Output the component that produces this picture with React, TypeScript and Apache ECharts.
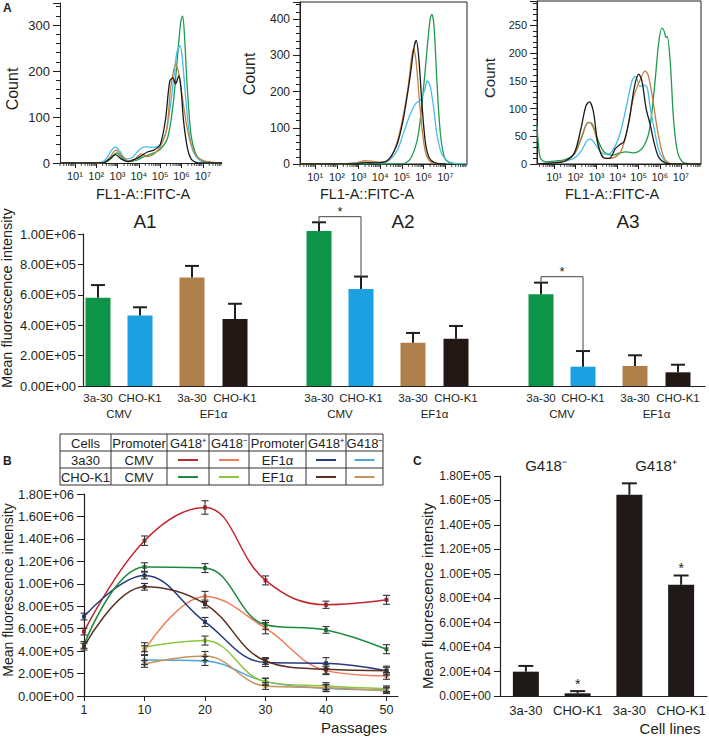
import { useEffect, useRef } from 'react';
import * as echarts from 'echarts';

const FONT = "'Liberation Sans', Arial, Helvetica, sans-serif";
const INK = '#231f20';

// ================= Panel A (top): flow cytometry histograms =================
// x = log10(FL1-A fluorescence), y = cell count
const histXName = 'FL1-A::FITC-A';
const histYName = 'Count';
const histDecades = [1, 2, 3, 4, 5, 6, 7];
const histSup = ['⁰', '¹', '²', '³', '⁴', '⁵', '⁶', '⁷', '⁸'];

const h1Green = [[0.3,0],[2.3,0],[2.65,8],[2.95,22],[3.25,10],[3.55,3],[3.9,6],[4.25,14],[4.6,20],[5.0,30],[5.35,55],[5.6,125],[5.82,235],[5.96,305],[6.05,320],[6.13,285],[6.27,165],[6.45,60],[6.65,22],[6.9,6],[7.3,1],[7.9,0]];
const h1Blue = [[0.3,0],[1.9,0],[2.4,6],[2.7,27],[2.9,35],[3.1,26],[3.4,9],[3.7,12],[4.0,28],[4.3,35],[4.7,34],[5.0,40],[5.3,72],[5.55,150],[5.78,240],[5.93,255],[6.03,232],[6.18,150],[6.35,70],[6.55,25],[6.85,6],[7.2,0],[7.9,0]];
const h1Orange = [[0.3,0],[2.3,0],[2.6,10],[2.92,28],[3.2,16],[3.5,5],[3.8,8],[4.1,20],[4.4,14],[4.7,19],[5.0,35],[5.3,72],[5.5,165],[5.72,213],[5.85,200],[6.05,140],[6.25,80],[6.45,40],[6.7,16],[7.0,6],[7.4,2],[7.9,0]];
const h1Black = [[0.3,0],[2.3,0],[2.6,8],[2.9,18],[3.2,8],[3.5,3],[3.8,8],[4.1,15],[4.4,24],[4.7,28],[5.0,40],[5.25,95],[5.45,178],[5.6,185],[5.72,172],[5.88,190],[5.98,160],[6.1,90],[6.28,32],[6.45,9],[6.65,2],[7.0,0],[7.9,0]];

const h2Green = [[0.3,0],[4.9,0],[5.15,2],[5.45,20],[5.75,80],[5.98,200],[6.18,330],[6.3,400],[6.38,413],[6.48,380],[6.62,220],[6.78,80],[6.98,15],[7.3,2],[8.0,0]];
const h2Blue = [[0.3,0],[2.3,0],[2.7,3],[3.1,4],[3.5,3],[4.0,3],[4.4,10],[4.8,40],[5.1,90],[5.4,140],[5.65,168],[5.85,175],[6.05,205],[6.17,229],[6.3,215],[6.45,160],[6.62,80],[6.82,30],[7.1,8],[7.4,2],[8.0,0]];
const h2Orange = [[0.3,0],[2.6,0],[3.0,5],[3.3,9],[3.6,8],[4.0,5],[4.4,12],[4.75,55],[5.05,130],[5.3,220],[5.45,295],[5.54,318],[5.65,285],[5.82,165],[5.98,70],[6.15,20],[6.4,3],[6.8,0]];
const h2Black = [[0.3,0],[2.8,0],[3.3,4],[3.8,3],[4.3,8],[4.75,50],[5.05,120],[5.35,230],[5.55,320],[5.66,341],[5.78,290],[5.93,160],[6.08,60],[6.25,18],[6.5,4],[7.0,0]];

const h3Green = [[0.18,70],[0.25,35],[0.35,10],[0.6,4],[1.0,5],[1.5,8],[1.95,18],[2.3,48],[2.6,75],[2.8,72],[3.05,45],[3.35,22],[3.75,16],[4.1,20],[4.4,22],[4.8,20],[5.2,30],[5.5,60],[5.75,140],[5.95,220],[6.1,245],[6.2,240],[6.3,228],[6.35,230],[6.5,180],[6.65,80],[6.85,20],[7.15,2],[7.95,0]];
const h3Black = [[0.18,0],[1.0,2],[1.5,5],[1.95,20],[2.25,62],[2.5,105],[2.66,112],[2.85,95],[3.05,40],[3.3,12],[3.6,10],[3.9,28],[4.11,35],[4.3,40],[4.55,80],[4.8,140],[5.0,162],[5.15,150],[5.35,100],[5.55,70],[5.75,35],[5.95,12],[6.25,2],[6.6,0],[7.95,0]];
const h3Blue = [[0.18,0],[1.0,3],[1.5,5],[2.0,12],[2.3,25],[2.55,42],[2.72,45],[2.95,35],[3.25,20],[3.55,18],[3.85,30],[4.15,60],[4.45,110],[4.7,152],[4.86,158],[5.05,140],[5.25,142],[5.4,138],[5.55,100],[5.75,60],[5.95,25],[6.25,5],[6.6,0],[7.95,0]];
const h3Orange = [[0.18,0],[1.0,2],[1.5,6],[1.95,18],[2.25,45],[2.5,70],[2.66,75],[2.9,60],[3.15,25],[3.45,10],[3.85,12],[4.15,22],[4.45,60],[4.75,120],[5.05,150],[5.3,168],[5.45,160],[5.65,120],[5.85,70],[6.05,30],[6.25,8],[6.6,0],[7.95,0]];

// ================= Panel A (bottom): mean fluorescence bars =================
const aGroupNames = ['A1', 'A2', 'A3'];
const aCellLines = ['3a-30', 'CHO-K1', '3a-30', 'CHO-K1'];
const aPromoters = ['CMV', 'EF1α'];
const a1Means = [5.81e5, 4.63e5, 7.13e5, 4.41e5];
const a1Errors = [8.3e4, 5.5e4, 7.7e4, 1.0e5];
const a2Means = [1.02e6, 6.38e5, 2.85e5, 3.11e5];
const a2Errors = [5.7e4, 8.2e4, 6.4e4, 8.4e4];
const a3Means = [6.03e5, 1.27e5, 1.32e5, 0.9e5];
const a3Errors = [7.7e4, 1.03e5, 7.0e4, 5.0e4];
const aSignificance = [
  { group: 1, from: 0, to: 1, level: 1.114e6 },
  { group: 2, from: 0, to: 1, level: 7.19e5 },
];

// ================= Panel B: passages =================
const passages = [1, 10, 20, 30, 40, 50];
const bCellLines = ['3a30', 'CHO-K1'];
const bPromoters = ['CMV', 'EF1α'];
const b3a30CmvPos = [5.74e5, 1.384e6, 1.68e6, 1.03e6, 8.13e5, 8.57e5];
const b3a30CmvPosErr = [3.0e4, 4.2e4, 6.0e4, 4.0e4, 3.2e4, 4.0e4];
const b3a30CmvNeg = [null, 4.08e5, 8.87e5, 6.04e5, 2.26e5, 1.79e5];
const b3a30CmvNegErr = [null, 4.0e4, 4.5e4, 5.0e4, 3.5e4, 3.0e4];
const b3a30EfPos = [7.08e5, 1.074e6, 6.6e5, 2.98e5, 2.92e5, 2.26e5];
const b3a30EfPosErr = [3.0e4, 3.0e4, 4.0e4, 3.5e4, 5.0e4, 4.0e4];
const b3a30EfNeg = [null, 3.21e5, 3.12e5, 1.28e5, 6.9e4, 5.4e4];
const b3a30EfNegErr = [null, 4.0e4, 4.0e4, 3.0e4, 3.0e4, 2.5e4];
const bChoCmvPos = [4.55e5, 1.149e6, 1.14e6, 6.34e5, 5.89e5, 4.17e5];
const bChoCmvPosErr = [3.0e4, 3.8e4, 4.0e4, 4.0e4, 3.0e4, 4.0e4];
const bChoCmvNeg = [null, 4.35e5, 4.94e5, 1.28e5, 8.9e4, 6.5e4];
const bChoCmvNegErr = [null, 4.0e4, 4.0e4, 3.0e4, 3.0e4, 2.5e4];
const bChoEfPos = [4.4e5, 9.73e5, 8.2e5, 3.12e5, 2.38e5, 2.26e5];
const bChoEfPosErr = [3.0e4, 3.0e4, 3.5e4, 3.0e4, 4.0e4, 3.0e4];
const bChoEfNeg = [null, 2.86e5, 3.57e5, 8.9e4, 7.4e4, 4.7e4];
const bChoEfNegErr = [null, 3.0e4, 4.0e4, 3.0e4, 3.0e4, 2.5e4];
const bHeaders = ['Cells', 'Promoter', 'G418⁺', 'G418⁻', 'Promoter', 'G418⁺', 'G418⁻'];

// ================= Panel C =================
const cCellLines = ['3a-30', 'CHO-K1', '3a-30', 'CHO-K1'];
const cMeans = [1.99e4, 2.2e3, 1.647e5, 9.1e4];
const cErrors = [4.7e3, 1.8e3, 9.3e3, 7.6e3];
const cSignificant = [false, true, false, true];
const cGroupLabels = ['G418⁻', 'G418⁺'];
const yTitle = 'Mean fluorescence intensity';

// ================= styles / layout =================
const HIST_COLORS = { green: '#1f9a4e', blue: '#45bde8', orange: '#c4803f', black: '#1a1a1a' };
const A_COLORS = ['#0e9448', '#1ba1e2', '#b0804a', '#221714'];
const A_GROUP_START = [15, 236, 458];
const A_MEMBER_OFFSET = [0, 42, 94, 137];
const A_BAR_W = 25;

const histLayouts = [
  { left: 60, top: 3, width: 162, height: 160, xMin: 0.3, xMax: 7.9, yMax: 348, yStep: 100, frame: false, yFont: 13 },
  { left: 300, top: 2, width: 167, height: 162, xMin: 0.3, xMax: 8.0, yMax: 447, yStep: 100, frame: true, yFont: 12 },
  { left: 537, top: 1, width: 164, height: 163, xMin: 0.18, xMax: 7.95, yMax: 294, yStep: 50, frame: true, yFont: 11 },
];
const histData = [
  [h1Green, h1Blue, h1Orange, h1Black],
  [h2Green, h2Blue, h2Orange, h2Black],
  [h3Green, h3Blue, h3Orange, h3Black],
];
const histColorOrder = [HIST_COLORS.green, HIST_COLORS.blue, HIST_COLORS.orange, HIST_COLORS.black];

const lineDefs = [
  { cell: 0, promoter: 0, pos: true, values: b3a30CmvPos, errors: b3a30CmvPosErr, color: '#c1272d' },
  { cell: 0, promoter: 0, pos: false, values: b3a30CmvNeg, errors: b3a30CmvNegErr, color: '#f07c5c' },
  { cell: 0, promoter: 1, pos: true, values: b3a30EfPos, errors: b3a30EfPosErr, color: '#263a7f' },
  { cell: 0, promoter: 1, pos: false, values: b3a30EfNeg, errors: b3a30EfNegErr, color: '#4ea6dc' },
  { cell: 1, promoter: 0, pos: true, values: bChoCmvPos, errors: bChoCmvPosErr, color: '#1d8a3c' },
  { cell: 1, promoter: 0, pos: false, values: bChoCmvNeg, errors: bChoCmvNegErr, color: '#8dc63f' },
  { cell: 1, promoter: 1, pos: true, values: bChoEfPos, errors: bChoEfPosErr, color: '#5a3020' },
  { cell: 1, promoter: 1, pos: false, values: bChoEfNeg, errors: bChoEfNegErr, color: '#c8935a' },
];

const sci = (v: number) => {
  if (v === 0) return '0.00E+00';
  const e = Math.floor(Math.log10(v) + 1e-9);
  const m = v / Math.pow(10, e);
  return m.toFixed(2) + 'E+' + String(e).padStart(2, '0');
};

const axisLineStyle = { color: INK, width: 1 };
const labelBase = { color: INK, fontFamily: FONT };

function T(text: string, x: number, y: number, size: number, o: any = {}) {
  return {
    type: 'text', x, y, rotation: o.rot || 0, silent: true, z: 100,
    style: {
      text, fill: INK, fontSize: size, fontFamily: FONT,
      fontWeight: o.bold ? 'bold' : 'normal', align: o.align || 'center', verticalAlign: o.va || 'middle',
    },
  };
}
function L(x1: number, y1: number, x2: number, y2: number, color = INK, w = 1) {
  return { type: 'line', silent: true, z: 100, shape: { x1, y1, x2, y2 }, style: { stroke: color, lineWidth: w } };
}

function buildOption() {
  const grids: any[] = [];
  const xAxes: any[] = [];
  const yAxes: any[] = [];
  const series: any[] = [];

  // ---- histograms ----
  histLayouts.forEach((h, i) => {
    grids.push({ left: h.left, top: h.top, width: h.width, height: h.height, show: h.frame, borderColor: INK, borderWidth: 1, backgroundColor: 'transparent', outerBoundsMode: 'none' });
    xAxes.push({
      gridIndex: i, type: 'value', min: h.xMin, max: h.xMax,
      axisLine: { show: true, onZero: false, lineStyle: axisLineStyle },
      axisTick: { show: true, customValues: histDecades, length: 5, lineStyle: axisLineStyle },
      axisLabel: { ...labelBase, customValues: histDecades, fontSize: 11, margin: 7, formatter: (v: number) => '10' + histSup[Math.round(v)] },
      splitLine: { show: false },
    });
    yAxes.push({
      gridIndex: i, type: 'value', min: 0, max: h.yMax, interval: h.yStep,
      axisLine: { show: true, onZero: false, lineStyle: axisLineStyle },
      axisTick: { show: true, length: 7, lineStyle: axisLineStyle },
      minorTick: { show: true, splitNumber: 5, length: 4, lineStyle: axisLineStyle },
      axisLabel: { ...labelBase, fontSize: h.yFont, margin: 10, showMaxLabel: false },
      splitLine: { show: false }, minorSplitLine: { show: false },
    });
    histData[i].forEach((d, k) => {
      series.push({
        type: 'line', xAxisIndex: i, yAxisIndex: i, data: d, smooth: 0.3, symbol: 'none', silent: true,
        lineStyle: { color: histColorOrder[k], width: 1.3 }, z: 2 + (k === 3 ? 1 : 0),
      });
    });
    const minor: number[][] = [];
    for (let n = 0; n <= 8; n++) for (let k = 2; k <= 9; k++) {
      const e = n + Math.log10(k);
      if (e >= h.xMin && e <= h.xMax) minor.push([e, 0]);
    }
    series.push({
      type: 'custom', xAxisIndex: i, yAxisIndex: i, data: minor, silent: true, z: 5,
      renderItem: (_p: any, api: any) => {
        const p = api.coord([api.value(0), 0]);
        return { type: 'line', shape: { x1: p[0], y1: p[1], x2: p[0], y2: p[1] + 3 }, style: { stroke: INK, lineWidth: 0.8 } };
      },
    });
  });

  // ---- A bars (grid 3) ----
  grids.push({ left: 83, top: 234, width: 622, height: 152, outerBoundsMode: 'none' });
  xAxes.push({
    gridIndex: 3, type: 'value', min: 0, max: 622,
    axisLine: { show: true, lineStyle: { color: INK, width: 1.2 } }, axisTick: { show: false }, axisLabel: { show: false }, splitLine: { show: false },
  });
  yAxes.push({
    gridIndex: 3, type: 'value', min: 0, max: 1e6, interval: 2e5,
    axisLine: { show: true, lineStyle: { color: INK, width: 1.2 } }, axisTick: { show: true, length: 5, lineStyle: axisLineStyle },
    axisLabel: { ...labelBase, fontSize: 13, margin: 7, formatter: sci }, splitLine: { show: false },
  });
  const aMeans = [a1Means, a2Means, a3Means];
  const aErrors = [a1Errors, a2Errors, a3Errors];
  const aItems: number[][] = [];
  aMeans.forEach((means, g) => means.forEach((m, k) => aItems.push([A_GROUP_START[g] + A_MEMBER_OFFSET[k], m, m + aErrors[g][k], k])));
  series.push({
    type: 'custom', xAxisIndex: 3, yAxisIndex: 3, data: aItems, silent: true, z: 4,
    encode: { x: 0, y: [1, 2] },
    renderItem: (_p: any, api: any) => {
      const x = api.value(0), v = api.value(1), et = api.value(2), k = api.value(3);
      const b = api.coord([x, 0]), t = api.coord([x, v]), e = api.coord([x, et]);
      return {
        type: 'group', children: [
          { type: 'rect', shape: { x: b[0] - A_BAR_W / 2, y: t[1], width: A_BAR_W, height: b[1] - t[1] }, style: { fill: A_COLORS[k] } },
          { type: 'line', shape: { x1: b[0], y1: t[1], x2: b[0], y2: e[1] }, style: { stroke: INK, lineWidth: 2 } },
          { type: 'line', shape: { x1: b[0] - 7, y1: e[1], x2: b[0] + 7, y2: e[1] }, style: { stroke: INK, lineWidth: 2 } },
          { type: 'text', x: b[0], y: b[1] + 12, style: { text: aCellLines[k], fill: INK, fontSize: 11.5, fontFamily: FONT, align: 'center', verticalAlign: 'middle' } },
        ],
      };
    },
  });
  const promoItems: number[][] = [];
  aGroupNames.forEach((_g, g) => aPromoters.forEach((_p, p) => promoItems.push([A_GROUP_START[g] + (A_MEMBER_OFFSET[2 * p] + A_MEMBER_OFFSET[2 * p + 1]) / 2, 0, p])));
  series.push({
    type: 'custom', xAxisIndex: 3, yAxisIndex: 3, data: promoItems, silent: true, z: 4,
    renderItem: (_p: any, api: any) => {
      const c = api.coord([api.value(0), 0]);
      return { type: 'text', x: c[0], y: c[1] + 28, style: { text: aPromoters[api.value(2)], fill: INK, fontSize: 11.5, fontFamily: FONT, align: 'center', verticalAlign: 'middle' } };
    },
  });
  const sigItems = aSignificance.map((s) => [
    A_GROUP_START[s.group] + A_MEMBER_OFFSET[s.from], A_GROUP_START[s.group] + A_MEMBER_OFFSET[s.to], s.level,
    aMeans[s.group][s.from] + aErrors[s.group][s.from], aMeans[s.group][s.to] + aErrors[s.group][s.to],
  ]);
  series.push({
    type: 'custom', xAxisIndex: 3, yAxisIndex: 3, data: sigItems, silent: true, z: 4,
    encode: { x: [0, 1], y: [2, 3, 4] },
    renderItem: (_p: any, api: any) => {
      const x0 = api.value(0), x1 = api.value(1), lv = api.value(2);
      const a = api.coord([x0, api.value(3)]), b = api.coord([x0, lv]), c = api.coord([x1, lv]), d = api.coord([x1, api.value(4)]);
      return {
        type: 'group', children: [
          { type: 'polyline', shape: { points: [a, b, c, d] }, style: { stroke: '#444', lineWidth: 1, fill: null } },
          { type: 'text', x: (b[0] + c[0]) / 2, y: b[1] - 5, style: { text: '*', fill: INK, fontSize: 13, fontFamily: FONT, align: 'center', verticalAlign: 'middle' } },
        ],
      };
    },
  });

  // ---- B lines (grid 4) ----
  grids.push({ left: 84, top: 494, width: 314, height: 202, outerBoundsMode: 'none' });
  const passIdx = passages.map((_p, i) => i);
  xAxes.push({
    gridIndex: 4, type: 'value', min: 0, max: 5.19,
    axisLine: { show: true, lineStyle: { color: INK, width: 1.2 } },
    axisTick: { show: true, customValues: passIdx, length: 5, lineStyle: axisLineStyle },
    axisLabel: { ...labelBase, customValues: passIdx, fontSize: 12.5, margin: 7, formatter: (v: number) => String(passages[Math.round(v)]) },
    splitLine: { show: false },
  });
  yAxes.push({
    gridIndex: 4, type: 'value', min: 0, max: 1.8e6, interval: 2e5,
    axisLine: { show: true, lineStyle: { color: INK, width: 1.2 } }, axisTick: { show: true, length: 7, lineStyle: axisLineStyle },
    axisLabel: { ...labelBase, fontSize: 13, margin: 10, formatter: sci }, splitLine: { show: false },
  });
  lineDefs.forEach((d) => {
    const pts: number[][] = [];
    const errs: number[][] = [];
    d.values.forEach((v, i) => {
      if (v == null) return;
      pts.push([i, v]);
      const er = d.errors[i] as number;
      errs.push([i, v - er, v + er]);
    });
    series.push({
      type: 'line', xAxisIndex: 4, yAxisIndex: 4, data: pts, smooth: 0.4, symbol: 'rect', symbolSize: 4, showSymbol: true, silent: true,
      lineStyle: { color: d.color, width: 1.5 }, itemStyle: { color: d.color }, z: 2,
    });
    series.push({
      type: 'custom', xAxisIndex: 4, yAxisIndex: 4, data: errs, silent: true, z: 3,
      encode: { x: 0, y: [1, 2] },
      renderItem: (_p: any, api: any) => {
        const lo = api.coord([api.value(0), api.value(1)]), hi = api.coord([api.value(0), api.value(2)]);
        const st = { stroke: '#333', lineWidth: 1.1 };
        return {
          type: 'group', children: [
            { type: 'line', shape: { x1: lo[0], y1: lo[1], x2: hi[0], y2: hi[1] }, style: st },
            { type: 'line', shape: { x1: lo[0] - 3.5, y1: lo[1], x2: lo[0] + 3.5, y2: lo[1] }, style: st },
            { type: 'line', shape: { x1: hi[0] - 3.5, y1: hi[1], x2: hi[0] + 3.5, y2: hi[1] }, style: st },
          ],
        };
      },
    });
  });

  // ---- C bars (grid 5) ----
  grids.push({ left: 500, top: 476, width: 207, height: 220, outerBoundsMode: 'none' });
  xAxes.push({
    gridIndex: 5, type: 'category', data: cCellLines, boundaryGap: true,
    axisLine: { show: true, lineStyle: { color: INK, width: 1.2 } }, axisTick: { show: false },
    axisLabel: { ...labelBase, fontSize: 13, margin: 8, interval: 0 }, splitLine: { show: false },
  });
  yAxes.push({
    gridIndex: 5, type: 'value', min: 0, max: 1.8e5, interval: 2e4,
    axisLine: { show: true, lineStyle: { color: INK, width: 1.2 } }, axisTick: { show: true, length: 6, lineStyle: axisLineStyle },
    axisLabel: { ...labelBase, fontSize: 12, margin: 9, formatter: sci }, splitLine: { show: false },
  });
  series.push({ type: 'bar', xAxisIndex: 5, yAxisIndex: 5, data: cMeans, barWidth: 26, itemStyle: { color: '#1f1a17' }, silent: true, z: 2 });
  series.push({
    type: 'custom', xAxisIndex: 5, yAxisIndex: 5, silent: true, z: 3,
    data: cMeans.map((m, i) => [i, m, m + cErrors[i], cSignificant[i] ? 1 : 0]),
    encode: { x: 0, y: [1, 2] },
    renderItem: (_p: any, api: any) => {
      const t = api.coord([api.value(0), api.value(1)]), e = api.coord([api.value(0), api.value(2)]);
      const st = { stroke: INK, lineWidth: 2 };
      const ch: any[] = [
        { type: 'line', shape: { x1: t[0], y1: t[1], x2: e[0], y2: e[1] }, style: st },
        { type: 'line', shape: { x1: e[0] - 7.5, y1: e[1], x2: e[0] + 7.5, y2: e[1] }, style: st },
      ];
      if (api.value(3)) ch.push({ type: 'text', x: e[0], y: e[1] - 7, style: { text: '*', fill: INK, fontSize: 14, fontFamily: FONT, align: 'center', verticalAlign: 'middle' } });
      return { type: 'group', children: ch };
    },
  });

  // ---- graphic: titles and legend table ----
  const R = Math.PI / 2;
  const g: any[] = [
    T('A', 3, 8, 12, { bold: true, align: 'left' }),
    T('B', 3, 461, 12, { bold: true, align: 'left' }),
    T('C', 413, 461, 12, { bold: true, align: 'left' }),
    T(histYName, 12.5, 89, 16, { rot: R }),
    T(histYName, 249.5, 74, 16, { rot: R }),
    T(histYName, 489, 78, 15, { rot: R }),
    T(histXName, 143, 194, 14.5),
    T(histXName, 367, 194, 14.5),
    T(histXName, 612, 194, 14.5),
    T(aGroupNames[0], 145, 221, 19),
    T(aGroupNames[1], 403, 221, 19),
    T(aGroupNames[2], 628, 221, 19),
    T(yTitle, 7, 298, 14.5, { rot: R }),
    T(yTitle, 8, 590, 14, { rot: R }),
    T(yTitle, 427, 596, 15, { rot: R }),
    T('Passages', 354, 727, 15),
    T('Cell lines', 670, 728, 15),
    T(cGroupLabels[0], 546, 465, 15),
    T(cGroupLabels[1], 656, 465, 15),
  ];
  const colX = [60, 111, 167, 209, 249, 306, 346, 383];
  const rowY = [434, 451, 468, 485];
  colX.forEach((x) => g.push(L(x, rowY[0], x, rowY[3], '#333', 1)));
  rowY.forEach((y) => g.push(L(colX[0], y, colX[7], y, '#333', 1)));
  const mid = (a: number[], i: number) => (a[i] + a[i + 1]) / 2;
  bHeaders.forEach((h, c) => g.push(T(h, mid(colX, c), mid(rowY, 0) + 0.5, 13)));
  bCellLines.forEach((cell, r) => {
    const y = mid(rowY, r + 1) + 0.5;
    g.push(T(cell, mid(colX, 0), y, 13));
    bPromoters.forEach((pr, p) => {
      const base = 1 + p * 3;
      g.push(T(pr, mid(colX, base), y, 13));
      [true, false].forEach((pos, s) => {
        const d = lineDefs.find((l) => l.cell === r && l.promoter === p && l.pos === pos)!;
        const cx = mid(colX, base + 1 + s);
        g.push(L(cx - 10, y, cx + 10, y, d.color, 2));
      });
    });
  });

  return {
    animation: false,
    backgroundColor: '#ffffff',
    textStyle: { fontFamily: FONT },
    grid: grids,
    xAxis: xAxes,
    yAxis: yAxes,
    series,
    graphic: { elements: g },
  };
}

export default function App() {
  const ref = useRef<HTMLDivElement>(null);
  useEffect(() => {
    const chart = echarts.init(ref.current as HTMLDivElement, null, { renderer: 'svg' });
    chart.setOption(buildOption() as any);
    return () => chart.dispose();
  }, []);
  return <div ref={ref} style={{ position: 'fixed', left: 0, top: 0, width: 709, height: 737, background: '#fff' }} />;
}
